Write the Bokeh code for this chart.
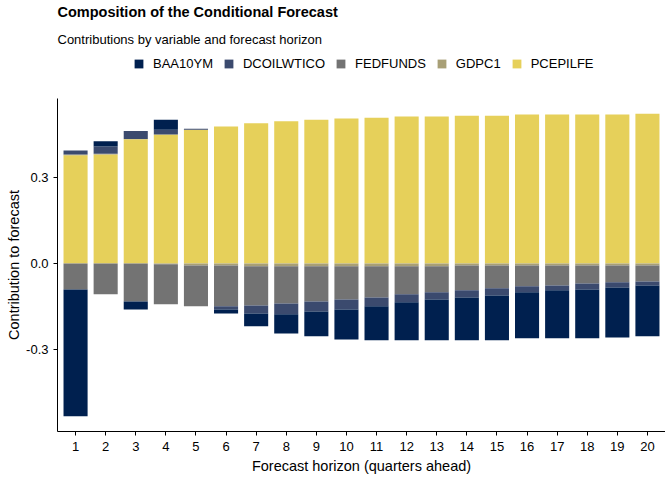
import numpy as np
from bokeh.plotting import figure
from bokeh.layouts import column
from bokeh.models import ColumnDataSource, Range1d, FixedTicker, PrintfTickFormatter, Legend, LegendItem, Title
from bokeh.embed import file_html
from bokeh.resources import INLINE

FONT = "Liberation Sans"

horizon = list(range(1, 21))
variables = ["BAA10YM", "DCOILWTICO", "FEDFUNDS", "GDPC1", "PCEPILFE"]
colors = ["#00204F", "#3B4A6E", "#737373", "#A89F76", "#E6D05A"]

# contributions, one list per variable
baa10ym = [-0.444, 0.018, -0.028, 0.035, 0.0, -0.014, -0.045, -0.067, -0.087, -0.105,
           -0.119, -0.133, -0.143, -0.150, -0.157, -0.161, -0.168, -0.171, -0.175, -0.178]
dcoilwtico = [0.014, 0.025, 0.028, 0.017, 0.003, -0.011, -0.028, -0.038, -0.035, -0.035,
              -0.031, -0.028, -0.025, -0.025, -0.025, -0.021, -0.017, -0.021, -0.018, -0.014]
fedfunds = [-0.091, -0.108, -0.133, -0.140, -0.143, -0.143, -0.137, -0.130, -0.123, -0.116,
            -0.109, -0.098, -0.091, -0.087, -0.080, -0.073, -0.070, -0.063, -0.059, -0.056]
gdpc1 = [0.003, 0.003, 0.001, -0.003, -0.007, -0.007, -0.010, -0.010, -0.010, -0.010,
         -0.010, -0.010, -0.010, -0.007, -0.007, -0.007, -0.007, -0.007, -0.007, -0.007]
pcepilfe = [0.378, 0.381, 0.434, 0.451, 0.468, 0.479, 0.490, 0.497, 0.503, 0.507,
            0.510, 0.514, 0.514, 0.517, 0.517, 0.521, 0.521, 0.521, 0.521, 0.524]

series = dict(zip(variables, [baa10ym, dcoilwtico, fedfunds, gdpc1, pcepilfe]))

# positive and negative parts are stacked separately (like ggplot position_stack)
data = {"h": horizon}
for v in variables:
    arr = np.array(series[v])
    data[v + "_pos"] = np.clip(arr, 0, None).tolist()
    data[v + "_neg"] = np.clip(arr, None, 0).tolist()
source = ColumnDataSource(data)

pos_tot = np.sum([data[v + "_pos"] for v in variables], axis=0)
neg_tot = np.sum([data[v + "_neg"] for v in variables], axis=0)
ymin, ymax = float(neg_tot.min()), float(pos_tot.max())
pad = 0.05 * (ymax - ymin)

LEFT = 57
FRAME_W = 608

# header strip: title, subtitle and legend
top = figure(frame_width=FRAME_W, frame_height=20, output_backend="svg", toolbar_location=None,
             x_range=Range1d(0, 1), y_range=Range1d(0, 1), x_axis_type=None, y_axis_type=None,
             min_border_left=LEFT, min_border_right=0, min_border_top=55, min_border_bottom=8)
top.xgrid.grid_line_color = None
top.ygrid.grid_line_color = None
top.outline_line_color = None

# zero-height bars, only used to draw the legend keys
swatches = [top.vbar(x=[0.5], top=[0], width=0.8, color=c, line_color=None) for c in colors]
legend = Legend(items=[LegendItem(label=v, renderers=[r]) for v, r in zip(variables, swatches)],
                orientation="horizontal", location=(76, 4),
                glyph_width=11, glyph_height=11, label_height=13, label_standoff=9, spacing=10,
                padding=0, margin=0, border_line_color=None, background_fill_alpha=0,
                label_text_font=FONT, label_text_font_size="13px", label_text_color="black")
top.add_layout(legend)

top.add_layout(Title(text="Contributions by variable and forecast horizon", align="left",
                     text_font=FONT, text_font_size="13px", text_font_style="normal",
                     text_color="black", standoff=18), "above")
top.add_layout(Title(text="Composition of the Conditional Forecast", align="left",
                     text_font=FONT, text_font_size="14.5px", text_font_style="bold",
                     text_color="black", standoff=1), "above")

p = figure(frame_width=FRAME_W, frame_height=333, output_backend="svg", toolbar_location=None,
           x_range=Range1d(0.4, 20.6), y_range=Range1d(ymin - pad, ymax + pad),
           min_border_left=LEFT, min_border_right=0, min_border_bottom=0, min_border_top=15)

# stack order from zero outward: PCEPILFE, GDPC1, FEDFUNDS, DCOILWTICO, BAA10YM
order = variables[::-1]
ocolors = colors[::-1]
p.vbar_stack([v + "_pos" for v in order], x="h", width=0.8, source=source,
             color=ocolors, line_color=None)
p.vbar_stack([v + "_neg" for v in order], x="h", width=0.8, source=source,
             color=ocolors, line_color=None)

p.xaxis.ticker = FixedTicker(ticks=horizon)
p.yaxis.ticker = FixedTicker(ticks=[-0.3, 0.0, 0.3])
p.yaxis.formatter = PrintfTickFormatter(format="%.1f")
p.xaxis.axis_label = "Forecast horizon (quarters ahead)"
p.yaxis.axis_label = "Contribution to forecast"

for ax in [p.xaxis, p.yaxis]:
    ax.axis_line_color = "black"
    ax.major_tick_line_color = "black"
    ax.major_tick_out = 4
    ax.major_tick_in = 0
    ax.minor_tick_line_color = None
    ax.major_label_text_font = FONT
    ax.major_label_text_font_size = "13px"
    ax.major_label_text_color = "black"
    ax.axis_label_text_font = FONT
    ax.axis_label_text_font_size = "14.5px"
    ax.axis_label_text_font_style = "normal"
    ax.axis_label_text_color = "black"
p.xaxis.major_label_standoff = 6
p.xaxis.axis_label_standoff = 4
p.yaxis.major_label_standoff = 5
p.yaxis.axis_label_standoff = 1

p.xgrid.grid_line_color = None
p.ygrid.grid_line_color = None
p.outline_line_color = None

open("out.html", "w").write(file_html(column(top, p, spacing=0), INLINE))
